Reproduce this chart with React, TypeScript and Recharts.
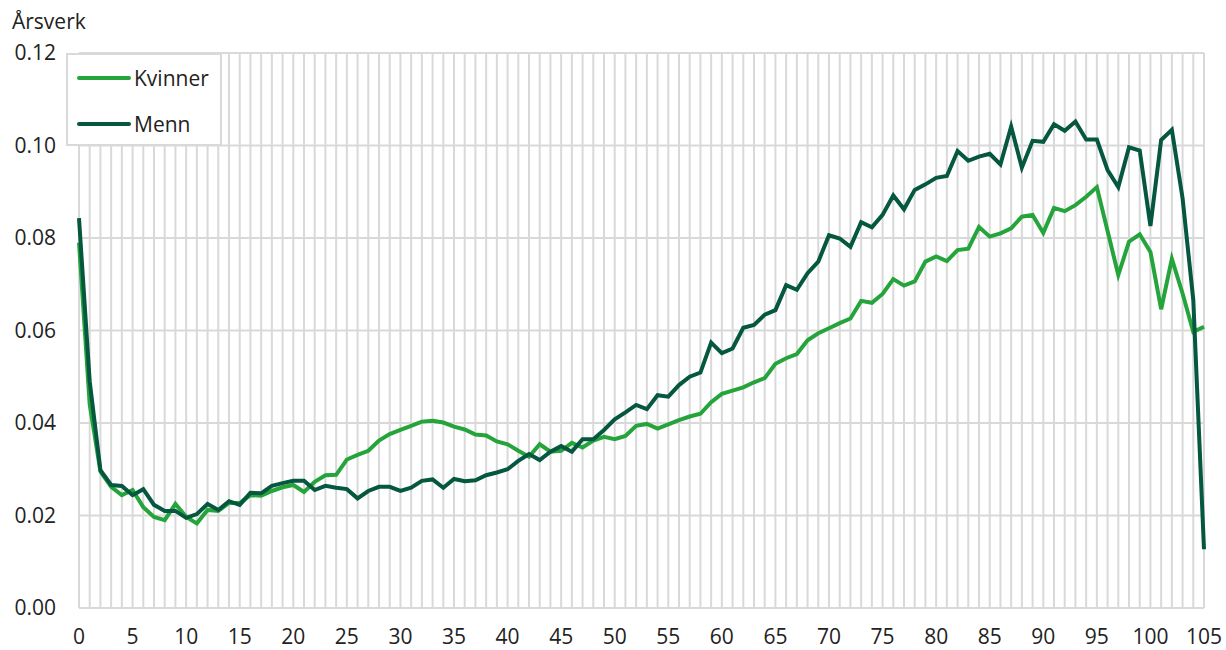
import { CartesianGrid, Legend, Line, LineChart, XAxis, YAxis } from "recharts";

const ages = Array.from({ length: 106 }, (_, i) => i);

const kvinner = [
  0.079, 0.044, 0.0295, 0.0262, 0.0244, 0.0255, 0.0218, 0.0197, 0.019, 0.0225,
  0.0197, 0.0183, 0.0212, 0.021, 0.0227, 0.0227, 0.0244, 0.0243, 0.0253, 0.0261,
  0.0266, 0.0251, 0.0273, 0.0287, 0.0288, 0.0321, 0.0331, 0.034, 0.0362, 0.0376,
  0.0385, 0.0394, 0.0403, 0.0405, 0.0401, 0.0392, 0.0386, 0.0375, 0.0373, 0.036,
  0.0354, 0.034, 0.0327, 0.0354, 0.0338, 0.034, 0.0357, 0.0347, 0.0362, 0.037,
  0.0365, 0.0372, 0.0394, 0.0398, 0.0388, 0.0397, 0.0406, 0.0414, 0.042, 0.0445,
  0.0463, 0.047, 0.0477, 0.0488, 0.0497, 0.0528, 0.054, 0.0549, 0.0579, 0.0594,
  0.0605, 0.0616, 0.0626, 0.0664, 0.066, 0.0679, 0.0711, 0.0697, 0.0706, 0.0749,
  0.076, 0.075, 0.0774, 0.0777, 0.0824, 0.0803, 0.081, 0.0821, 0.0846, 0.085,
  0.0811, 0.0865, 0.0858, 0.0871, 0.0889, 0.091, 0.0815, 0.072, 0.0792, 0.0808,
  0.077, 0.0646, 0.0755, 0.068, 0.0597, 0.0608,
];

const menn = [
  0.0843, 0.049, 0.0298, 0.0266, 0.0264, 0.0244, 0.0257, 0.0223, 0.021, 0.021,
  0.0195, 0.0203, 0.0225, 0.0212, 0.0231, 0.0223, 0.0249, 0.0248, 0.0264, 0.027,
  0.0275, 0.0275, 0.0255, 0.0264, 0.026, 0.0257, 0.0237, 0.0253, 0.0262, 0.0262,
  0.0253, 0.026, 0.0275, 0.0278, 0.026, 0.0279, 0.0274, 0.0276, 0.0287, 0.0293,
  0.03, 0.0318, 0.0333, 0.032, 0.0338, 0.035, 0.0338, 0.0365, 0.0365, 0.0385,
  0.0408, 0.0423, 0.0439, 0.043, 0.046, 0.0457, 0.0482, 0.05, 0.0509, 0.0574,
  0.0551, 0.0561, 0.0606, 0.0612, 0.0634, 0.0644, 0.0698, 0.0688, 0.0724, 0.0749,
  0.0806, 0.0799, 0.0781, 0.0834, 0.0823, 0.085, 0.0892, 0.0862, 0.0904, 0.0916,
  0.093, 0.0934, 0.0988, 0.0967, 0.0976, 0.0982, 0.0959, 0.1041, 0.0952, 0.101,
  0.1008, 0.1046, 0.1032, 0.1052, 0.1013, 0.1013, 0.0947, 0.091, 0.0996, 0.0989,
  0.0826, 0.1012, 0.1034, 0.0886, 0.0666, 0.0127,
];

const yTicks = [0, 0.02, 0.04, 0.06, 0.08, 0.1, 0.12];

const data = ages.map((age, i) => ({ age, kvinner: kvinner[i], menn: menn[i] }));

const FONT = "'Open Sans', sans-serif";
const FS = 21;
const LIGHT = "#25a43b";
const DARK = "#05573f";

function LegendBox() {
  const items = [
    { name: "Kvinner", color: LIGHT },
    { name: "Menn", color: DARK },
  ];
  return (
    <div
      style={{
        width: 152,
        height: 89,
        border: "2px solid #d9d9d9",
        background: "#fff",
        boxSizing: "content-box",
        fontFamily: FONT,
        fontSize: FS,
        color: "#222",
      }}
    >
      {items.map((it) => (
        <div key={it.name} style={{ display: "flex", alignItems: "center", height: 46 }}>
          <span
            style={{
              display: "inline-block",
              width: 54,
              height: 4,
              borderRadius: 2,
              background: it.color,
              marginLeft: 9,
              marginRight: 3,
            }}
          />
          <span>{it.name}</span>
        </div>
      ))}
    </div>
  );
}

export default function App() {
  return (
    <div style={{ position: "absolute", left: 0, top: 0, width: 1226, height: 650, background: "#fff" }}>
      <div
        style={{
          position: "absolute",
          left: 12,
          top: 7,
          fontFamily: FONT,
          fontSize: FS,
          color: "#222",
        }}
      >
        Årsverk
      </div>
      <LineChart
        width={1226}
        height={650}
        data={data}
        margin={{ top: 53, right: 22, bottom: 0, left: 19 }}
      >
        <CartesianGrid stroke="#d9d9d9" strokeWidth={2} />
        <XAxis
          dataKey="age"
          interval={0}
          axisLine={false}
          tickLine={false}
          tickMargin={15}
          height={42}
          tick={{ fontFamily: FONT, fontSize: FS, fill: "#222" }}
          tickFormatter={(v: number) => (v % 5 === 0 ? String(v) : "")}
        />
        <YAxis
          domain={[0, 0.12]}
          ticks={yTicks}
          width={60}
          axisLine={false}
          tickLine={false}
          tickMargin={17}
          tick={{ fontFamily: FONT, fontSize: FS, fill: "#222" }}
          tickFormatter={(v: number) => v.toFixed(2)}
        />
        <Legend
          layout="vertical"
          align="center"
          verticalAlign="middle"
          wrapperStyle={{ left: 66, top: 53, width: "auto" }}
          content={() => <LegendBox />}
        />
        <Line
          type="linear"
          dataKey="kvinner"
          name="Kvinner"
          stroke={LIGHT}
          strokeWidth={4}
          dot={false}
          isAnimationActive={false}
        />
        <Line
          type="linear"
          dataKey="menn"
          name="Menn"
          stroke={DARK}
          strokeWidth={4}
          dot={false}
          isAnimationActive={false}
        />
      </LineChart>
    </div>
  );
}
